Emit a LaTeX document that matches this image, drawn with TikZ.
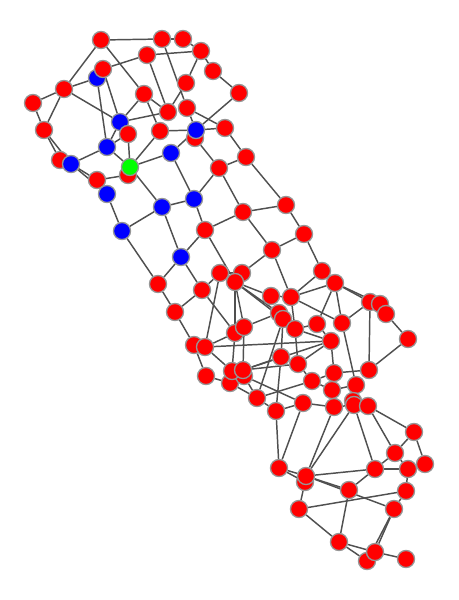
\documentclass[tikz,border=0pt]{standalone}
\pgfdeclarelayer{edges}
\pgfsetlayers{edges,main}
\definecolor{edgec}{RGB}{80,80,80}
\definecolor{rimc}{RGB}{150,150,150}
\begin{document}
\begin{tikzpicture}[x=0.75pt,y=-0.75pt,
  vx/.style={circle,draw=rimc,line width=1pt,minimum size=12.8pt,inner sep=0pt},
  rv/.style={vx,fill=red}, bv/.style={vx,fill=blue}, gv/.style={vx,fill=green},
  ed/.style={draw=edgec,line width=1.1pt}]
\path[use as bounding box] (0,0) rectangle (459,600);
\node[rv] (a1) at (101,40) {};
\node[rv] (a2) at (162,39) {};
\node[rv] (a3) at (183,39) {};
\node[rv] (a4) at (201,51) {};
\node[rv] (a5) at (147,55) {};
\node[bv] (a7) at (97,78) {};
\node[rv] (a6) at (103,69) {};
\node[rv] (a8) at (213,71) {};
\node[rv] (a9) at (64,89) {};
\node[rv] (a10) at (186,83) {};
\node[rv] (a11) at (33,103) {};
\node[rv] (a12) at (239,93) {};
\node[rv] (a13) at (144,94) {};
\node[rv] (a14) at (187,108) {};
\node[rv] (a15) at (168,112) {};
\node[bv] (a16) at (120,122) {};
\node[rv] (a17) at (225,128) {};
\node[rv] (a18) at (44,130) {};
\node[rv] (a19) at (160,131) {};
\node[rv] (a21) at (195,138) {};
\node[bv] (a20) at (196,130) {};
\node[rv] (a22) at (128,134) {};
\node[bv] (a23) at (107,147) {};
\node[bv] (a24) at (171,153) {};
\node[rv] (a25) at (246,157) {};
\node[rv] (a26) at (60,160) {};
\node[bv] (a27) at (71,164) {};
\node[rv] (a29) at (128,175) {};
\node[gv] (a28) at (130,167) {};
\node[rv] (a30) at (97,180) {};
\node[rv] (a31) at (219,168) {};
\node[bv] (a32) at (107,194) {};
\node[bv] (a33) at (162,207) {};
\node[bv] (a34) at (194,199) {};
\node[rv] (a35) at (286,205) {};
\node[rv] (a36) at (243,212) {};
\node[bv] (a37) at (122,231) {};
\node[rv] (a38) at (205,230) {};
\node[rv] (a39) at (304,234) {};
\node[rv] (a40) at (272,250) {};
\node[bv] (a41) at (181,257) {};
\node[rv] (a42) at (322,271) {};
\node[rv] (a43) at (335,283) {};
\node[rv] (a44) at (158,284) {};
\node[rv] (a45) at (220,273) {};
\node[rv] (a46) at (242,273) {};
\node[rv] (a47) at (235,282) {};
\node[rv] (a48) at (202,290) {};
\node[rv] (a49) at (271,296) {};
\node[rv] (a50) at (291,297) {};
\node[rv] (a51) at (175,312) {};
\node[rv] (a52) at (370,302) {};
\node[rv] (a53) at (380,304) {};
\node[rv] (a54) at (386,314) {};
\node[rv] (a55) at (279,313) {};
\node[rv] (a56) at (283,319) {};
\node[rv] (a57) at (295,329) {};
\node[rv] (a58) at (317,324) {};
\node[rv] (a59) at (342,323) {};
\node[rv] (a61) at (235,333) {};
\node[rv] (a60) at (244,327) {};
\node[rv] (a62) at (331,341) {};
\node[rv] (a63) at (408,339) {};
\node[rv] (a64) at (194,345) {};
\node[rv] (a65) at (205,347) {};
\node[rv] (a66) at (281,357) {};
\node[rv] (a67) at (298,364) {};
\node[rv] (a68) at (334,373) {};
\node[rv] (a69) at (369,370) {};
\node[rv] (a70) at (206,376) {};
\node[rv] (a74) at (230,383) {};
\node[rv] (a73) at (244,376) {};
\node[rv] (a71) at (232,371) {};
\node[rv] (a72) at (243,370) {};
\node[rv] (a75) at (257,398) {};
\node[rv] (a76) at (312,381) {};
\node[rv] (a77) at (332,390) {};
\node[rv] (a78) at (356,385) {};
\node[rv] (a79) at (303,403) {};
\node[rv] (a80) at (276,411) {};
\node[rv] (a81) at (334,407) {};
\node[rv] (a82) at (353,401) {};
\node[rv] (a83) at (354,405) {};
\node[rv] (a84) at (368,406) {};
\node[rv] (a85) at (414,432) {};
\node[rv] (a86) at (395,453) {};
\node[rv] (a87) at (425,464) {};
\node[rv] (a88) at (408,469) {};
\node[rv] (a89) at (375,469) {};
\node[rv] (a90) at (279,468) {};
\node[rv] (a91) at (305,482) {};
\node[rv] (a92) at (306,476) {};
\node[rv] (a93) at (349,490) {};
\node[rv] (a94) at (406,491) {};
\node[rv] (a95) at (299,509) {};
\node[rv] (a96) at (394,509) {};
\node[rv] (a97) at (339,542) {};
\node[rv] (a98) at (367,561) {};
\node[rv] (a99) at (375,552) {};
\node[rv] (a100) at (406,559) {};
\begin{pgfonlayer}{edges}
\foreach \u/\v in {a1/a2, a2/a3, a3/a4, a1/a9, a1/a13, a5/a4, a5/a6, a5/a15, a4/a10, a4/a8,
  a8/a12, a2/a14, a10/a15, a14/a20, a14/a17, a15/a16, a13/a16, a13/a19, a13/a15, a12/a20,
  a17/a20, a19/a20, a20/a24, a21/a31, a17/a25, a25/a31, a6/a16, a7/a9, a7/a23, a9/a11,
  a9/a18, a9/a16, a11/a18, a18/a26, a18/a27, a16/a23, a22/a23, a22/a28, a19/a28, a24/a28,
  a23/a28, a23/a27, a27/a30, a27/a32, a29/a30, a28/a33, a32/a37, a33/a37, a33/a34, a33/a41,
  a34/a24, a34/a31, a34/a38, a31/a36, a36/a35, a25/a35, a36/a38, a36/a40, a35/a39, a39/a40,
  a39/a42, a40/a46, a40/a50, a38/a47, a37/a44, a41/a38, a41/a44, a41/a48, a44/a51, a48/a51,
  a45/a48, a51/a64}
  \draw[ed] (\u) -- (\v);
\foreach \u/\v in {a45/a46, a45/a65, a47/a55, a47/a56, a47/a49, a47/a61, a47/a60, a48/a61,
  a60/a55, a61/a65, a65/a62, a61/a71, a60/a72, a65/a71, a64/a70, a70/a74, a56/a75, a56/a66,
  a66/a72, a57/a56, a42/a50, a43/a50, a43/a42, a43/a52, a43/a53, a43/a58, a43/a59, a49/a50,
  a50/a59, a50/a57, a52/a59, a52/a69, a54/a63, a53/a54, a52/a53, a58/a57, a58/a62, a62/a57,
  a62/a67, a62/a68, a66/a67, a67/a76, a68/a69, a68/a76, a59/a78, a69/a63, a78/a77, a76/a77,
  a79/a80, a79/a81, a66/a80, a75/a74, a73/a75, a75/a80, a75/a76, a73/a79, a72/a67, a80/a90,
  a79/a90, a81/a92, a83/a92, a83/a89, a84/a86, a85/a86, a85/a87, a86/a88, a86/a89, a89/a88,
  a89/a92, a89/a93, a92/a93, a95/a94, a92/a96, a90/a92, a90/a91, a91/a95, a93/a97, a95/a97,
  a96/a94, a96/a99, a96/a98, a97/a99, a97/a98, a99/a100, a78/a82, a81/a83, a84/a83, a84/a85,
  a62/a72, a57/a67, a94/a88}
  \draw[ed] (\u) -- (\v);
\end{pgfonlayer}
\end{tikzpicture}
\end{document}
